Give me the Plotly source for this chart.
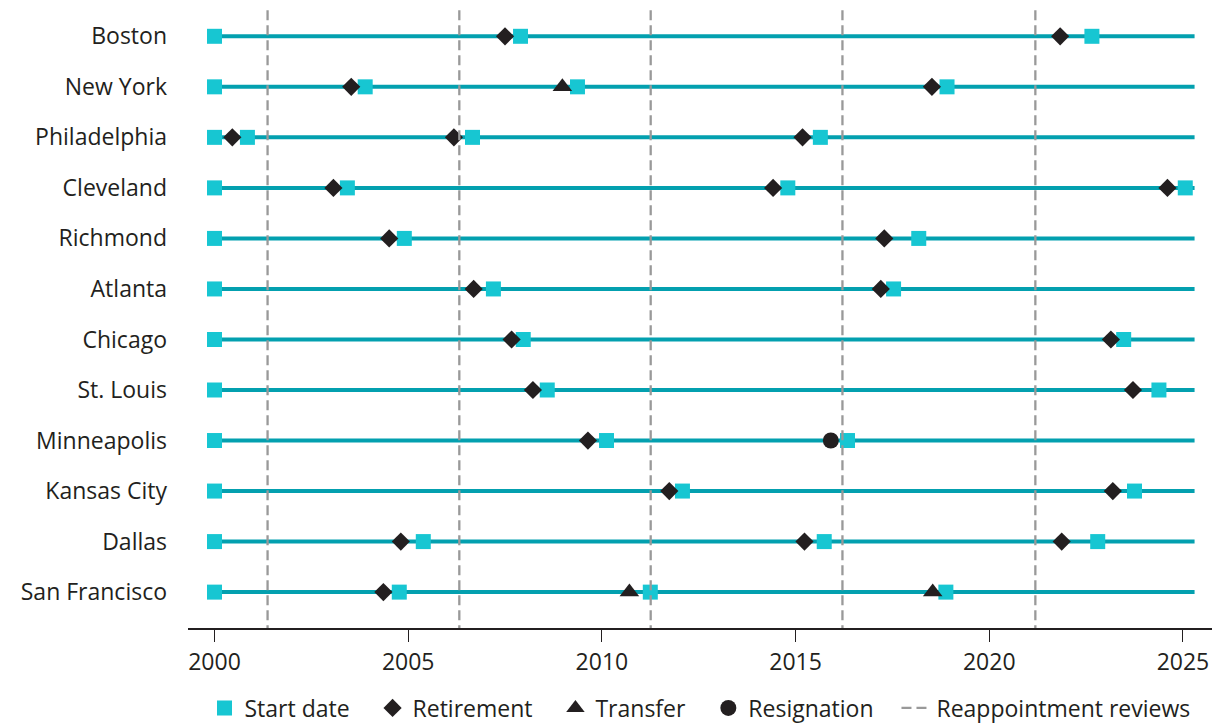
import plotly.graph_objects as go

districts = ["Boston", "New York", "Philadelphia", "Cleveland", "Richmond", "Atlanta",
             "Chicago", "St. Louis", "Minneapolis", "Kansas City", "Dallas", "San Francisco"]

start_dates = [
    [2000.0, 2007.90, 2022.65],
    [2000.0, 2003.89, 2009.37, 2018.91],
    [2000.0, 2000.85, 2006.66, 2015.64],
    [2000.0, 2003.43, 2014.80, 2025.06],
    [2000.0, 2004.90, 2018.18],
    [2000.0, 2007.20, 2017.53],
    [2000.0, 2007.97, 2023.47],
    [2000.0, 2008.59, 2024.38],
    [2000.0, 2010.12, 2016.34],
    [2000.0, 2012.08, 2023.75],
    [2000.0, 2005.39, 2015.74, 2022.80],
    [2000.0, 2004.77, 2011.25, 2018.88],
]

retirements = [
    [2007.50, 2021.83],
    [2003.53, 2018.52],
    [2000.46, 2006.18, 2015.18],
    [2003.07, 2014.42, 2024.60],
    [2004.51, 2017.29],
    [2006.69, 2017.20],
    [2007.67, 2023.14],
    [2008.22, 2023.71],
    [2009.64],
    [2011.74, 2023.19],
    [2004.81, 2015.23, 2021.87],
    [2004.36],
]

transfers = [[], [2008.98], [], [], [], [], [], [], [], [], [], [2010.71, 2018.54]]

resignations = [[], [], [], [], [], [], [], [], [2015.91], [], [], []]

reappointment_reviews = [2001.37, 2006.32, 2011.26, 2016.21, 2021.19]

period_start = 2000.0
period_end = 2025.3

x_ticks = [2000, 2005, 2010, 2015, 2020, 2025]

legend_names = ["Start date", "Retirement", "Transfer", "Resignation", "Reappointment reviews"]

TEAL_LINE = "#03A0AF"
TEAL_SQ = "#17C6D2"
BLACK = "#231F20"
GRAY = "#999999"
FONT = "Open Sans"
FS = 23
PAD = "&nbsp;&nbsp;&nbsp;"


def flatten(per_district):
    xs, ys = [], []
    for i, vals in enumerate(per_district):
        for v in vals:
            xs.append(v)
            ys.append(i)
    return xs, ys


fig = go.Figure()

# timelines
lx, ly = [], []
for i, _ in enumerate(districts):
    lx += [period_start, period_end, None]
    ly += [i, i, None]
fig.add_trace(go.Scatter(x=lx, y=ly, mode="lines", line=dict(color=TEAL_LINE, width=4),
                         showlegend=False, hoverinfo="skip"))

sx, sy = flatten(start_dates)
fig.add_trace(go.Scatter(x=sx, y=sy, mode="markers", name=legend_names[0] + PAD,
                         marker=dict(symbol="square", size=15, color=TEAL_SQ, line=dict(width=0))))
rx, ry = flatten(retirements)
fig.add_trace(go.Scatter(x=rx, y=ry, mode="markers", name=legend_names[1] + PAD,
                         marker=dict(symbol="diamond", size=14, color=BLACK, line=dict(width=0))))
tx, ty = flatten(transfers)
fig.add_trace(go.Scatter(x=tx, y=ty, mode="markers", name=legend_names[2] + PAD,
                         marker=dict(symbol="triangle-up", size=17, color=BLACK, line=dict(width=0))))
cx, cy = flatten(resignations)
fig.add_trace(go.Scatter(x=cx, y=cy, mode="markers", name=legend_names[3] + PAD,
                         marker=dict(symbol="circle", size=16, color=BLACK, line=dict(width=0))))

# reappointment review dashed verticals
vx, vy = [], []
for d in reappointment_reviews:
    vx += [d, d, None]
    vy += [-2, len(districts) + 1, None]
fig.add_trace(go.Scatter(x=vx, y=vy, mode="lines", name=legend_names[4],
                         line=dict(color=GRAY, width=2.3, dash="10px,5px"), hoverinfo="skip"))

fig.update_layout(
    width=1221, height=724,
    margin=dict(l=188, r=9, t=8, b=96, autoexpand=False),
    paper_bgcolor="white", plot_bgcolor="white",
    font=dict(family=FONT, size=FS, color=BLACK),
    showlegend=True,
    legend=dict(orientation="h", x=0.5, xanchor="center", y=-0.129, yanchor="middle",
                font=dict(family=FONT, size=FS, color=BLACK), itemclick=False,
                traceorder="normal"),
    xaxis=dict(range=[1999.316, 2025.75], tickvals=x_ticks, ticktext=[str(t) for t in x_ticks],
               showgrid=False, zeroline=False, showline=True, linecolor=BLACK, linewidth=2,
               ticks="outside", ticklen=12, tickwidth=1, tickcolor=BLACK, automargin=False,
               tickfont=dict(family=FONT, size=FS, color=BLACK)),
    yaxis=dict(range=[11.71, -0.56], tickvals=list(range(len(districts))), ticktext=districts,
               showgrid=False, zeroline=False, showline=False, ticks="", automargin=False,
               ticklabelstandoff=20,
               tickfont=dict(family=FONT, size=FS, color=BLACK)),
)

fig.write_html("out.html", config={"displayModeBar": False},
               post_script="document.body.style.margin='0';document.body.style.overflow='hidden';")
